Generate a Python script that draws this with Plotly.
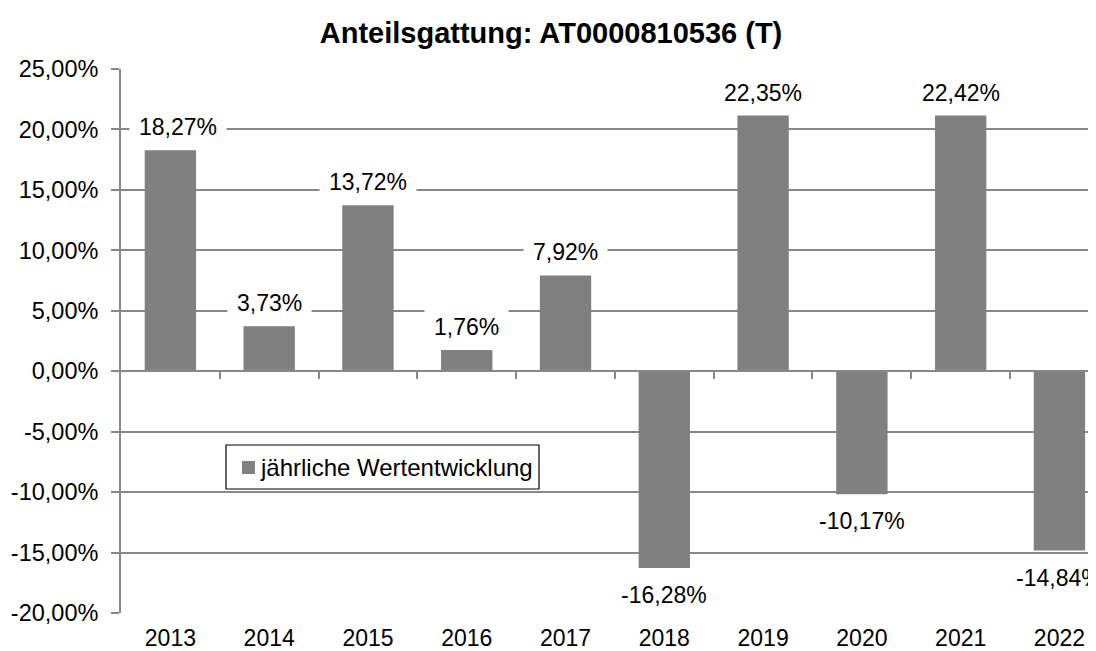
import plotly.graph_objects as go

years = ["2013", "2014", "2015", "2016", "2017", "2018", "2019", "2020", "2021", "2022"]
bar_values = [18.27, 3.73, 13.72, 1.76, 7.92, -16.28, 21.6, -10.17, 21.55, -14.84]
label_texts = ["18,27%", "3,73%", "13,72%", "1,76%", "7,92%", "-16,28%", "22,35%", "-10,17%", "22,42%", "-14,84%"]
y_tick_vals = [-20, -15, -10, -5, 0, 5, 10, 15, 20, 25]
y_tick_text = ["-20,00%", "-15,00%", "-10,00%", "-5,00%", "0,00%", "5,00%", "10,00%", "15,00%", "20,00%", "25,00%"]
series_name = "jährliche Wertentwicklung"
title_text = "Anteilsgattung: AT0000810536 (T)"

FONT = "Liberation Sans, Arial, sans-serif"
GRID = "#888888"
BAR = "#808080"

OFF = 8  # page body margin
W, H = 1096 - OFF, 651 - OFF
L, R, T, B = 121 - OFF, 0, 69 - OFF, 38
PW, PH = W - L - R, H - T - B
Y0, Y1 = -20, 25
xr = [-0.5, 9.37]

def px_x(p):  # p in page pixels
    return (p - OFF - L) / PW

def px_y(p):
    return (H - B - (p - OFF)) / PH

fig = go.Figure()
fig.add_trace(go.Bar(
    x=years, y=bar_values, name=series_name,
    marker=dict(color=BAR, line=dict(width=0)),
    width=0.52, showlegend=False,
))

# helper trace for the overlay axis that draws the zero line with boundary ticks
fig.add_trace(go.Scatter(x=[0], y=[0], xaxis="x2", yaxis="y", mode="markers",
                         marker=dict(opacity=0), showlegend=False, hoverinfo="skip"))

# data labels: kept inside the plot area like the original
LABEL_HALF_H = 24
LABEL_HALF_W = 50
annotations = []
for i, (v, t) in enumerate(zip(bar_values, label_texts)):
    ypx = T + (Y1 - v) * PH / (Y1 - Y0)            # figure px of bar end
    xpx = L + (i - xr[0]) * PW / (xr[1] - xr[0])   # figure px of bar centre
    if v >= 0:
        ys = min(23, ypx - (T + LABEL_HALF_H))
    else:
        ys = -27
    xs = max(0, (L + LABEL_HALF_W + 7) - xpx)
    annotations.append(dict(
        x=i, y=v, xref="x", yref="y", text=t, showarrow=False,
        xanchor="center", yanchor="middle", yshift=ys, xshift=xs,
        bgcolor="white", borderpad=9,
        font=dict(family=FONT, size=23, color="black"),
    ))

# legend (box, swatch, label)
shapes = [
    dict(type="rect", xref="paper", yref="paper",
         x0=px_x(226), x1=px_x(539), y0=px_y(489), y1=px_y(445),
         line=dict(color="black", width=1.2), fillcolor="white", layer="above"),
    dict(type="rect", xref="paper", yref="paper",
         x0=px_x(242), x1=px_x(255), y0=px_y(474), y1=px_y(461),
         line=dict(width=0), fillcolor=BAR, layer="above"),
]
annotations.append(dict(
    x=px_x(258), y=px_y(467), xref="paper", yref="paper", text=series_name,
    showarrow=False, xanchor="left", yanchor="middle",
    font=dict(family=FONT, size=24, color="black"),
))

fig.update_layout(
    width=W, height=H,
    margin=dict(l=L, r=R, t=T, b=B, autoexpand=False),
    paper_bgcolor="white", plot_bgcolor="white",
    separators=",.",
    showlegend=False,
    font=dict(family=FONT, size=22, color="black"),
    title=dict(text="<b>" + title_text + "</b>", x=(551 - OFF) / W, xanchor="center",
               y=1 - (33 - OFF) / H, yanchor="middle", font=dict(family=FONT, size=29, color="black")),
    xaxis=dict(type="category", categoryorder="array", categoryarray=years, range=xr,
               showline=False, showgrid=False, ticks="", zeroline=False, automargin=False,
               ticklabelstandoff=9,
               tickfont=dict(family=FONT, size=23, color="black")),
    xaxis2=dict(overlaying="x", anchor="free", position=(0 - Y0) / (Y1 - Y0), range=xr,
                showline=True, linecolor=GRID, linewidth=1.8, automargin=False,
                tickmode="array", tickvals=[i + 0.5 for i in range(len(years) - 1)],
                ticks="outside", ticklen=7, tickcolor=GRID, tickwidth=1.8,
                showticklabels=False, showgrid=False, zeroline=False),
    yaxis=dict(range=[Y0, Y1], tickmode="array", tickvals=y_tick_vals, ticktext=y_tick_text,
               showgrid=True, gridcolor=GRID, gridwidth=1.8,
               showline=True, linecolor=GRID, linewidth=1.8,
               ticks="outside", ticklen=8, tickcolor=GRID, tickwidth=1.8,
               zeroline=False, ticklabelstandoff=8, automargin=False,
               tickfont=dict(family=FONT, size=23.5, color="black")),
    shapes=shapes,
    annotations=annotations,
)

fig.write_html("out.html")
